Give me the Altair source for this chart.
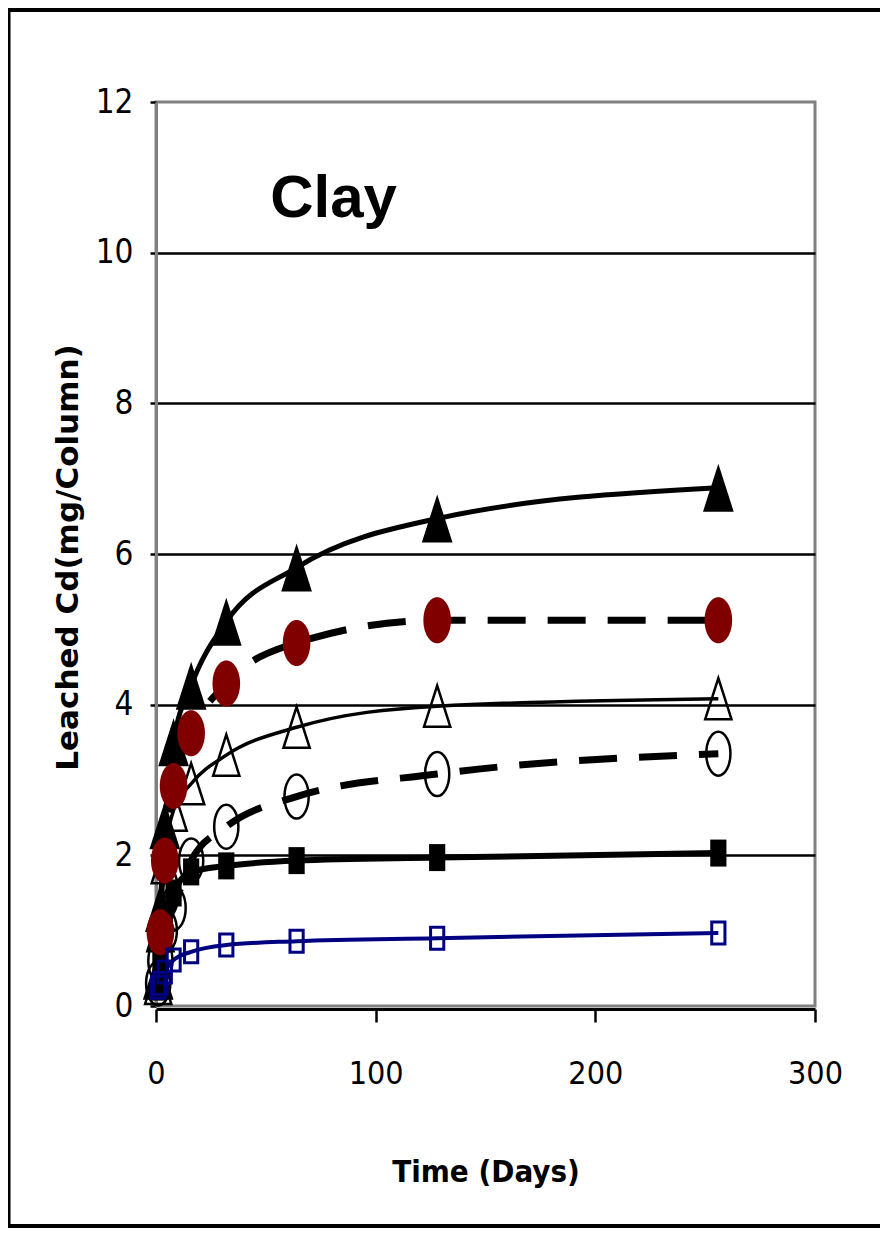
import altair as alt
import pandas as pd

# ---- data ----
days = [1, 2, 4, 8, 16, 32, 64, 128, 256]
days_red = [2, 4, 8, 16, 32, 64, 128, 256]
filled_triangle = [0.4, 1.3, 2.4, 3.5, 4.25, 5.1, 5.82, 6.47, 6.88]
red_circle = [0.98, 1.93, 2.92, 3.62, 4.28, 4.82, 5.12, 5.12]
open_triangle = [0.3, 1.0, 1.9, 2.6, 2.95, 3.33, 3.7, 3.98, 4.08]
open_circle = [0.3, 0.6, 1.0, 1.3, 1.93, 2.38, 2.78, 3.08, 3.35]
filled_square = [0.25, 0.6, 1.1, 1.5, 1.78, 1.86, 1.93, 1.97, 2.03]
blue_square = [0.25, 0.3, 0.45, 0.61, 0.72, 0.81, 0.86, 0.9, 0.97]
x_ticks = [0, 100, 200, 300]
y_ticks = [0, 2, 4, 6, 8, 10, 12]
panel_label = "Clay"
panel_label_pos = (52, 10.47)

NARROW = "'Liberation Sans Narrow', 'Arial Narrow', 'DejaVu Sans Condensed', sans-serif"
ARIAL = "'Liberation Sans', Arial, sans-serif"
WIDE = "'DejaVu Sans', sans-serif"

TRI = "M0,-1L0.64,1L-0.64,1Z"
ELL = "M-0.6,0A0.6,1,0,1,1,0.6,0A0.6,1,0,1,1,-0.6,0Z"
ELL2 = "M-0.55,0A0.55,1,0,1,1,0.55,0A0.55,1,0,1,1,-0.55,0Z"
RECT = "M-0.6,-1L0.6,-1L0.6,1L-0.6,1Z"


def frame(xs, ys):
    return pd.DataFrame({"day": xs, "cd": ys})


x_enc = alt.X(
    "day:Q",
    scale=alt.Scale(domain=[0, 300], nice=False, zero=False),
    axis=alt.Axis(
        values=x_ticks, title="Time (Days)", grid=False, offset=3, format="d",
        domainColor="black", domainWidth=3,
        tickColor="black", tickWidth=2.5, tickSize=13,
        labelFont=NARROW, labelFontSize=32, labelColor="black",
        labelPadding=36, labelFlush=False,
        titleFont=NARROW, titleFontSize=31, titleFontWeight="bold",
        titleColor="black", titleBaseline="alphabetic", titleY=172,
    ),
)
y_enc = alt.Y(
    "cd:Q",
    scale=alt.Scale(domain=[0, 12], nice=False),
    axis=alt.Axis(
        values=y_ticks, title="Leached Cd(mg/Column)", format="d",
        grid=True,
        gridColor=alt.condition("datum.value == 0 || datum.value == 12",
                                alt.value("transparent"), alt.value("black")),
        gridWidth=2.5,
        domainColor="#808080", domainWidth=3,
        tickColor="black", tickWidth=2.5, tickSize=6,
        labelFont=NARROW, labelFontSize=33, labelColor="black", labelPadding=17,
        titleFont=WIDE, titleFontSize=31, titleFontWeight="bold",
        titleColor="black", titleBaseline="alphabetic", titleAngle=270,
        titleX=-79, titleY=455, titleAlign="center",
    ),
)
x_plain = alt.X("day:Q")
y_plain = alt.Y("cd:Q")

series = [
    # data, line style, marker style
    (frame(days, filled_triangle), dict(strokeWidth=5),
     dict(shape=TRI, size=2304, filled=True, color="black")),
    (frame(days_red, red_circle), dict(strokeWidth=7, strokeDash=[38, 22]),
     dict(shape=ELL, size=2116, filled=True, color="#800000")),
    (frame(days, open_triangle), dict(strokeWidth=3.5),
     dict(shape=TRI, size=1681, filled=False, color="black", strokeWidth=2.5)),
    (frame(days, open_circle), dict(strokeWidth=7, strokeDash=[38, 22]),
     dict(shape=ELL2, size=1936, filled=False, color="black", strokeWidth=2.5)),
    (frame(days, filled_square), dict(strokeWidth=6),
     dict(shape=RECT, size=729, filled=True, color="black")),
    (frame(days, blue_square), dict(strokeWidth=4, color="#000080"),
     dict(shape=RECT, size=484, filled=False, color="#000080", strokeWidth=3)),
]

layers = []
dummy = alt.Data(values=[{}])
# outer black border of the slide
layers.append(alt.Chart(dummy).mark_rule(color="black", strokeWidth=4).encode(
    x=alt.value(-148), x2=alt.value(724), y=alt.value(-92)))
layers.append(alt.Chart(dummy).mark_rule(color="black", strokeWidth=3).encode(
    x=alt.value(-147), y=alt.value(-94), y2=alt.value(1126)))
layers.append(alt.Chart(dummy).mark_rule(color="black", strokeWidth=4).encode(
    x=alt.value(-148), x2=alt.value(724), y=alt.value(1124)))

first = True
for df, lstyle, _ in series:
    style = dict(color="black", interpolate="monotone")
    style.update(lstyle)
    enc = dict(x=x_enc, y=y_enc) if first else dict(x=x_plain, y=y_plain)
    first = False
    layers.append(alt.Chart(df).mark_line(**style).encode(**enc))

for idx in [3, 4, 2, 0, 1, 5]:
    df, _, mstyle = series[idx]
    layers.append(alt.Chart(df).mark_point(opacity=1, **mstyle).encode(x=x_plain, y=y_plain))

label_df = pd.DataFrame({"day": [panel_label_pos[0]], "cd": [panel_label_pos[1]], "t": [panel_label]})
layers.append(alt.Chart(label_df).mark_text(
    align="left", baseline="alphabetic", font=ARIAL, fontSize=60,
    fontWeight="bold", color="black").encode(x=x_plain, y=y_plain, text="t:N"))

chart = alt.layer(*layers).properties(
    width=659, height=904,
    padding={"left": 148, "top": 94, "right": 65, "bottom": 222},
    autosize=alt.AutoSizeParams(type="none"),
    background="white",
).configure_view(stroke="#808080", strokeWidth=3)

chart.save("out.html", embed_options={"renderer": "svg", "actions": False})
